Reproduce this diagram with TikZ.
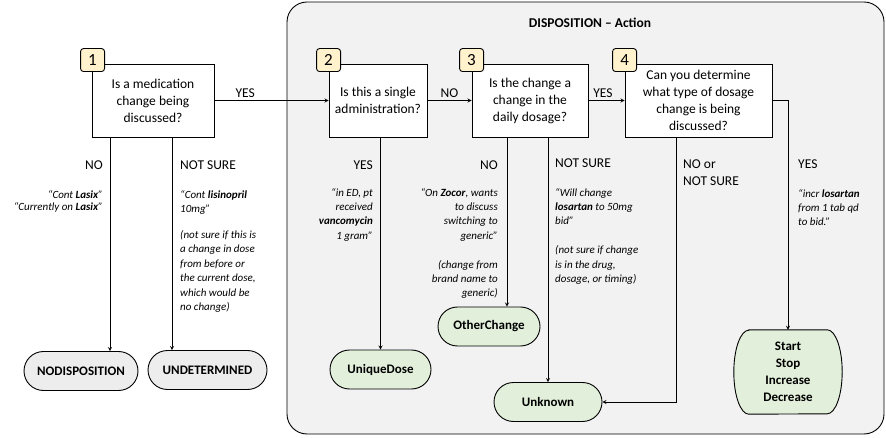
\documentclass[tikz,border=0pt]{standalone}
\usepackage{fontspec}
\setmainfont{Carlito}
\usetikzlibrary{positioning, arrows, shapes.misc, backgrounds}

\definecolor{panelgray}{HTML}{F2F2F2}
\definecolor{endgray}{HTML}{EDEDED}
\definecolor{endgreen}{HTML}{E2EFDA}
\definecolor{stepyellow}{HTML}{FFF2CC}

\tikzset{
    question/.style={draw, line width=0.9pt, fill=white, align=center, minimum height=73pt, inner sep=2pt, font=\fontsize{13.5}{17}\selectfont},
    badge/.style={draw, line width=0.9pt, fill=stepyellow, rounded corners=3pt, minimum width=24pt, minimum height=23pt, inner sep=0pt, font=\fontsize{17}{17}\selectfont},
    endpoint/.style={rounded rectangle, draw, line width=0.9pt, minimum height=39pt, inner sep=2pt, font=\bfseries\fontsize{13}{17}\selectfont},
    tallend/.style={rectangle, align=center, inner sep=2pt, font=\bfseries\fontsize{13}{17}\selectfont},
    answer/.style={inner sep=0pt, font=\fontsize{13.5}{16.7}\selectfont},
    note/.style={inner sep=0pt, font=\itshape\fontsize{11}{14.4}\selectfont},
    arr/.style={-stealth, line width=0.8pt}
}

\begin{document}
\begin{tikzpicture}[x=1pt, y=-1pt]
\useasboundingbox (0,0) rectangle (886,438);
\begin{scope}[on background layer]
\draw[fill=panelgray, line width=0.9pt, rounded corners=20pt] (287,2) rectangle (884,434);
\end{scope}
\node[font=\bfseries\fontsize{13.5}{15}\selectfont] (title) at (590,23) {DISPOSITION – Action};

\node[question, minimum width=122pt] (q1) at (153,100.5) {Is a medication\\change being\\discussed?};
\node[question, minimum width=98pt] (q2) at (378,100.5) {Is this a single\\administration?};
\node[question, minimum width=116pt] (q3) at (530,100.5) {Is the change a\\change in the\\daily dosage?};
\node[question, minimum width=147pt] (q4) at (698.5,100.5) {Can you determine\\what type of dosage\\change is being\\discussed?};

\node[badge] (b1) at ([xshift=1pt, yshift=3.5pt]q1.north west) {1};
\node[badge] (b2) at ([xshift=0pt, yshift=3.5pt]q2.north west) {2};
\node[badge] (b3) at ([xshift=0pt, yshift=3.5pt]q3.north west) {3};
\node[badge] (b4) at ([xshift=0pt, yshift=3.5pt]q4.north west) {4};

\node[endpoint, fill=endgray, minimum width=118pt] (nodisp) at (81,371) {NODISPOSITION};
\node[endpoint, fill=endgray, minimum width=123pt] (undet) at (207.5,370) {UNDETERMINED};
\node[endpoint, fill=endgreen, minimum width=105pt] (unique) at (380.5,369.5) {UniqueDose};
\node[endpoint, fill=endgreen, minimum width=106pt] (other) at (489,326.5) {OtherChange};
\node[endpoint, fill=endgreen, minimum width=112pt] (unknown) at (548,402) {Unknown};
\node[tallend, minimum width=108pt, minimum height=84pt] (action) at (788,372) {Start\\Stop\\Increase\\Decrease};
\begin{scope}[on background layer]
\draw[fill=endgreen, line width=0.9pt] ([xshift=15pt]action.north west) -- ([xshift=-15pt]action.north east)
    arc[start angle=90, end angle=-90, x radius=15pt, y radius=42pt] -- ([xshift=15pt]action.south west)
    arc[start angle=270, end angle=90, x radius=15pt, y radius=42pt] -- cycle;
\end{scope}

\draw[arr] (q1.east) -- node[answer, pos=0.27, above=3pt] {YES} (q2.west);
\draw[arr] (q2.east) -- node[answer, above=3pt] {NO} (q3.west);
\draw[arr] (q3.east) -- node[answer, pos=0.4, above=3pt] {YES} (q4.west);

\coordinate (q1no) at ([xshift=-43pt]q1.south);
\coordinate (q1ns) at ([xshift=19pt]q1.south);
\coordinate (q3no) at ([xshift=-23pt]q3.south);
\coordinate (q4nn) at ([xshift=-22.5pt]q4.south);
\draw[arr] (q1no) -- (q1no |- nodisp.north);
\draw[arr] (q1ns) -- (q1ns |- undet.north);
\draw[arr] (unique.north |- q2.south) -- (unique.north);
\draw[arr] (q3no) -- (q3no |- other.north);
\draw[arr] (unknown.north |- q3.south) -- (unknown.north);
\draw[arr] (q4nn) |- (unknown.east);
\draw[arr] (q4.east) -| (action.north);

\node[answer, anchor=base east] (a1no) at (103,170) {NO};
\node[note, anchor=north east, align=right, font=\itshape\fontsize{11}{12}\selectfont] (n1no) at (103,190) {“Cont \textbf{Lasix}”\\“Currently on \textbf{Lasix}”};
\node[answer, anchor=base west] (a1ns) at (180,170) {NOT SURE};
\node[note, anchor=north west, align=left] (n1ns) at (180,190) {“Cont \textbf{lisinopril}\\10mg”\\[11.5pt](not sure if this is\\a change in dose\\from before or\\the current dose,\\which would be\\no change)};

\node[answer, anchor=base east] (a2yes) at (373,170) {YES};
\node[note, anchor=north east, align=right] (n2yes) at (373,188) {“in ED, pt\\received\\\textbf{vancomycin}\\1 gram”};

\node[answer, anchor=base east] (a3no) at (498,170) {NO};
\node[note, anchor=north east, align=right] (n3no) at (498,188) {“On \textbf{Zocor}, wants\\to discuss\\switching to\\generic”\\[14.4pt](change from\\brand name to\\generic)};
\node[answer, anchor=base west] (a3ns) at (555,168) {NOT SURE};
\node[note, anchor=north west, align=left] (n3ns) at (555,188) {“Will change\\\textbf{losartan} to 50mg\\bid”\\[14.4pt](not sure if change\\is in the drug,\\dosage, or timing)};

\node[answer, anchor=north west, align=left] (a4nn) at (683,160) {NO or\\NOT SURE};
\node[answer, anchor=base west] (a4yes) at (798,169) {YES};
\node[note, anchor=north west, align=left] (n4yes) at (798,189) {“incr \textbf{losartan}\\from 1 tab qd\\to bid.”};
\end{tikzpicture}
\end{document}
